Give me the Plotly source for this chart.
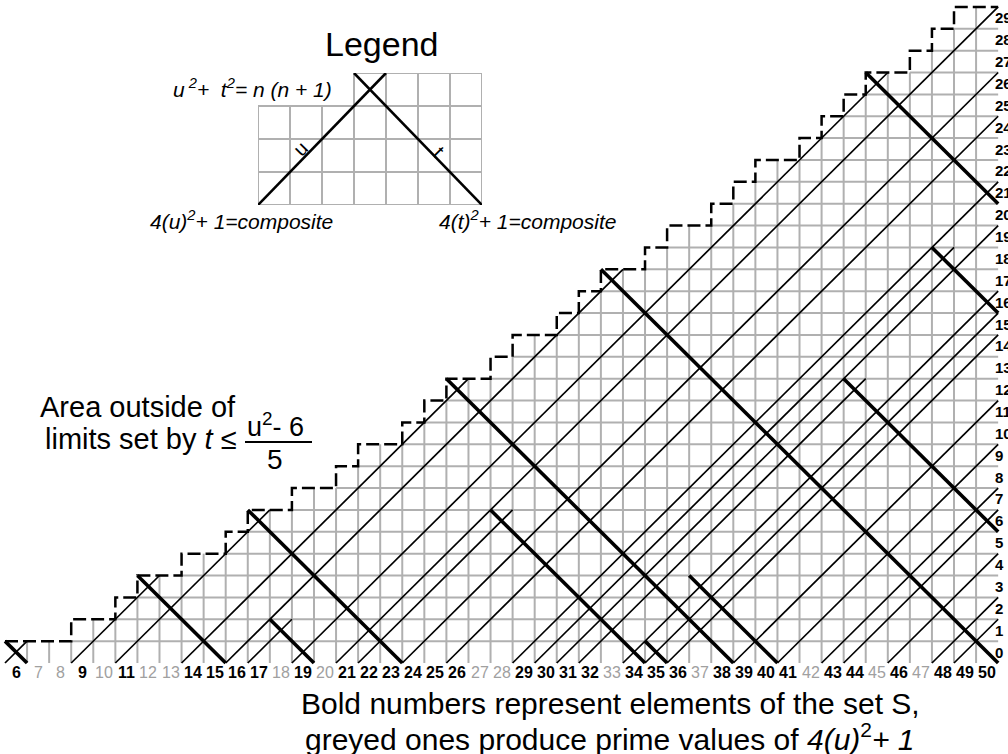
import plotly.graph_objects as go

# ---------------- data ----------------
u_values = list(range(6, 51))                      # bottom labels
grey_u = [7, 8, 10, 12, 13, 18, 20, 27, 28, 33, 37, 42, 45, 47]   # greyed labels
row_labels = list(range(0, 30))                    # right labels
# height (rows) of the dashed limit staircase for each column u = 6..50
stair_height = [1, 1, 1, 2, 2, 3, 4, 4, 5, 5, 6, 7, 7, 8, 8, 9, 10, 10, 11, 12,
                13, 13, 14, 15, 15, 16, 17, 18, 18, 19, 20, 20, 21, 22, 23, 23,
                24, 25, 26, 27, 27, 28, 29, 30, 30]
# thin rising u-lines: start column u, partner t where the line stops
rise_u = [6, 9, 11, 14, 16, 17, 19, 21, 22, 24, 26, 29, 30, 31, 32, 34, 35, 36,
          39, 41, 43, 44, 46, 48, 49]
rise_t = [6, 15, 23, 38, 50, 19, 71, 87, 34, 114, 134, 167, 66, 191, 56, 230,
          91, 258, 303, 335, 139, 386, 422, 174, 479]
# bold falling t-lines: pair (u, t)
fall_u = [6, 9, 11, 14, 16, 17, 19, 22, 30, 32, 34, 35]
fall_t = [6, 15, 23, 38, 50, 19, 71, 34, 66, 56, 40, 35]
# legend schematic
leg_cols = 7
leg_rows = 4
leg_cross_col = 3

# ---------------- layout constants ----------------
W, H = 1008, 754
PX_COL = 22.07
PX_ROW = 21.87
X0_PX = 5.0      # pixel of left edge of first column
Y0_PX = 663.0    # pixel of baseline row 0
x_left = u_values[0] - 0.5
x_right = u_values[-1] + 0.5
xr = [x_left - X0_PX / PX_COL, x_left + (W - X0_PX) / PX_COL]
yr = [-(H - Y0_PX) / PX_ROW, Y0_PX / PX_ROW]

FONT = "Liberation Sans, Arial, Helvetica, sans-serif"
GREY = "#b0b0b0"

hmap = dict(zip(u_values, stair_height))

# grey grid
gx, gy = [], []
for c in u_values[:-1]:
    top = min(hmap[c], hmap[c + 1])
    gx += [c + 0.5, c + 0.5, None]
    gy += [0, top, None]
for r in range(1, max(stair_height)):
    first = min(c for c in u_values if hmap[c] > r)
    gx += [first - 0.5, x_right, None]
    gy += [r, r, None]

# dashed staircase
sx, sy = [], []
for c in u_values:
    sx += [c - 0.5, c + 0.5]
    sy += [hmap[c], hmap[c]]

# rising thin lines
rx, ry = [], []
for u, t in zip(rise_u, rise_t):
    xe = min((u + t) / 2 + 0.5, x_right)
    rx += [u - 0.5, xe, None]
    ry += [0, xe - (u - 0.5), None]

# falling bold lines
fx, fy = [], []
for u, t in zip(fall_u, fall_t):
    xs = (u + t) / 2 - 0.5
    ys = (t - u) / 2 + 1
    xe = min(t + 0.5, x_right)
    fx += [xs, xe, None]
    fy += [ys, ys - (xe - xs), None]

fig = go.Figure()
fig.add_trace(go.Scatter(x=gx, y=gy, mode="lines", line=dict(color=GREY, width=2),
                         hoverinfo="skip", showlegend=False))
fig.add_trace(go.Scatter(x=sx, y=sy, mode="lines",
                         line=dict(color="black", width=2.5, dash="13px,5px"),
                         hoverinfo="skip", showlegend=False))
fig.add_trace(go.Scatter(x=rx, y=ry, mode="lines", line=dict(color="black", width=1.7),
                         hoverinfo="skip", showlegend=False))
fig.add_trace(go.Scatter(x=fx, y=fy, mode="lines", line=dict(color="black", width=3.6),
                         hoverinfo="skip", showlegend=False))

# legend schematic (own axes)
lgx, lgy = [], []
for k in range(leg_cols + 1):
    top = leg_rows if k >= leg_cross_col else leg_rows - 1
    lgx += [k, k, None]
    lgy += [0, top, None]
for r in range(leg_rows + 1):
    start = leg_cross_col if r == leg_rows else 0
    lgx += [start, leg_cols, None]
    lgy += [r, r, None]
fig.add_trace(go.Scatter(x=lgx, y=lgy, mode="lines", line=dict(color=GREY, width=2),
                         xaxis="x2", yaxis="y2", cliponaxis=False,
                         hoverinfo="skip", showlegend=False))
llx = [0, leg_cross_col + 1, None, leg_cross_col, leg_cols]
lly = [0, leg_rows, None, leg_rows, 0]
fig.add_trace(go.Scatter(x=llx, y=lly, mode="lines", line=dict(color="black", width=2.6),
                         xaxis="x2", yaxis="y2", cliponaxis=False,
                         hoverinfo="skip", showlegend=False))

ann = []
# bottom labels
for u in u_values:
    g = u in grey_u
    ann.append(dict(x=u, y=-(672 - Y0_PX) / PX_ROW, xref="x", yref="y",
                    text=str(u) if g else "<b>%d</b>" % u, showarrow=False,
                    font=dict(family=FONT, size=16, color="#a0a0a0" if g else "black"),
                    xanchor="center", yanchor="middle"))
# right labels (partly cut by the page edge, as in the original)
for r in row_labels:
    ann.append(dict(x=x_right + (993 - (X0_PX + (x_right - x_left) * PX_COL)) / PX_COL,
                    y=r + 0.5, xref="x", yref="y", text="<b>%d</b>" % r,
                    showarrow=False, font=dict(family=FONT, size=15, color="black"),
                    xanchor="left", yanchor="middle"))


def P(xp, yp):
    return xp / W, 1 - yp / H


def text(xp, yp, s, size, anchor="center", italic=False, angle=0):
    x, y = P(xp, yp)
    if italic:
        s = "<i>" + s + "</i>"
    ann.append(dict(x=x, y=y, xref="paper", yref="paper", text=s, showarrow=False,
                    font=dict(family=FONT, size=size, color="black"),
                    xanchor=anchor, yanchor="middle", textangle=angle))


text(381, 44, "Legend", 34)
text(334, 88, "u<sup> 2</sup>+  t<sup>2</sup>= n (n + 1)", 21, "right", True)
text(148, 220, "4(u)<sup>2</sup>+ 1=composite", 21, "left", True)
text(437, 220, "4(t)<sup>2</sup>+ 1=composite", 21, "left", True)
text(300, 149, "u", 20, "center", False, -45)
text(439, 152, "t", 20, "center", False, 45)
text(38, 407, "Area outside of", 29, "left")
text(43, 439, "limits set by <i>t</i> ≤", 29, "left")
text(275, 425, "u<sup>2</sup>- 6", 27, "center")
text(275, 459, "5", 28, "center")
text(610, 703, "Bold numbers represent elements of the set S,", 30, "center")
text(610, 737, "greyed ones produce prime values of <i>4(u)</i><sup>2</sup><i>+ 1</i>", 30, "center")

bx0, by = P(245, 442)
bx1, _ = P(312, 442)

fig.update_layout(
    width=W, height=H, margin=dict(l=0, r=0, t=0, b=0),
    paper_bgcolor="white", plot_bgcolor="white",
    xaxis=dict(range=xr, visible=False, domain=[0, 1]),
    yaxis=dict(range=yr, visible=False, domain=[0, 1]),
    xaxis2=dict(range=[0, leg_cols], visible=False, domain=[258 / W, 482 / W], anchor="y2"),
    yaxis2=dict(range=[0, leg_rows], visible=False,
                domain=[1 - 205 / H, 1 - 73 / H], anchor="x2"),
    annotations=ann,
    shapes=[dict(type="line", xref="paper", yref="paper", x0=bx0, x1=bx1, y0=by, y1=by,
                 line=dict(color="black", width=2))],
    showlegend=False,
)

fig.write_html(
    "out.html",
    config={"displayModeBar": False},
    post_script="document.body.style.margin='0';document.body.style.overflow='hidden';"
                "document.documentElement.style.overflow='hidden';",
)
